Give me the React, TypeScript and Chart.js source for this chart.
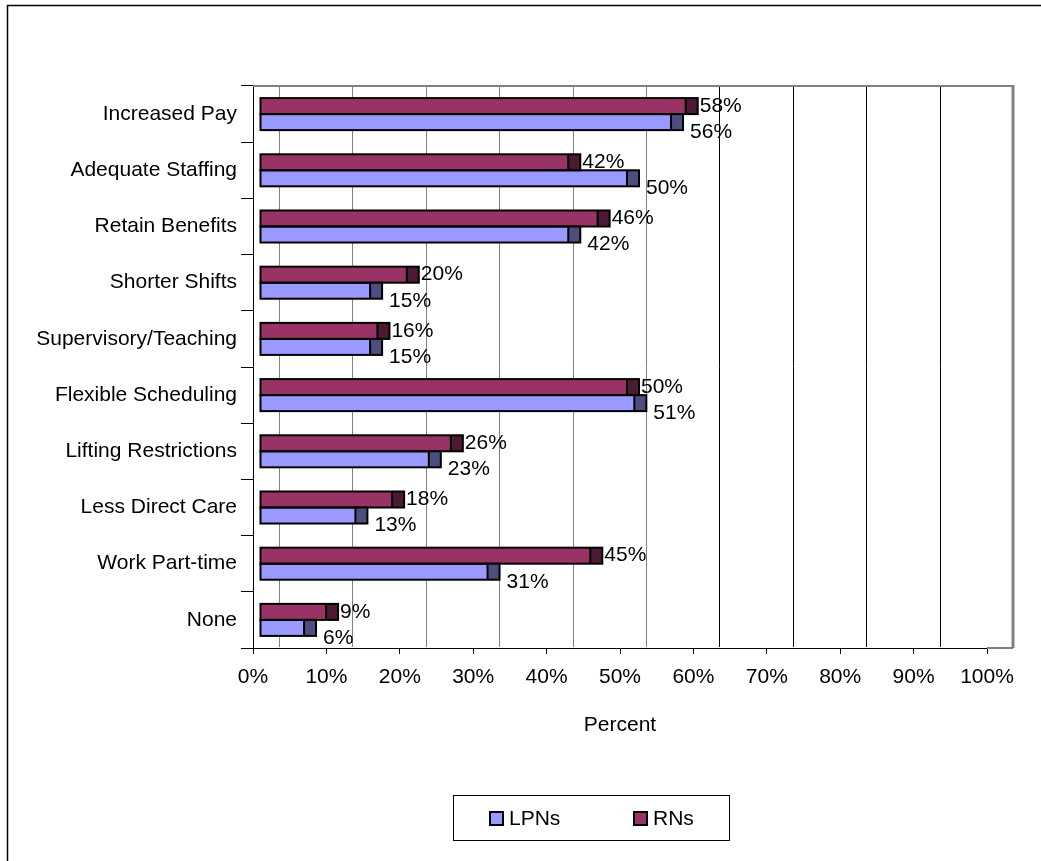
import React, { useEffect, useRef } from "react";
import { Chart, registerables } from "chart.js";

Chart.register(...registerables);

const categories = [
  "Increased Pay",
  "Adequate Staffing",
  "Retain Benefits",
  "Shorter Shifts",
  "Supervisory/Teaching",
  "Flexible Scheduling",
  "Lifting Restrictions",
  "Less Direct Care",
  "Work Part-time",
  "None",
];
const rnValues = [58, 42, 46, 20, 16, 50, 26, 18, 45, 9];
const lpnValues = [56, 50, 42, 15, 15, 51, 23, 13, 31, 6];
const xTicks = [0, 10, 20, 30, 40, 50, 60, 70, 80, 90, 100];
const seriesNames = ["RNs", "LPNs"];

const FONT = "'Liberation Sans', Arial, sans-serif";
const FONT_SIZE = 21;
const RN_FACE = "#993366";
const RN_CAP = "#4D1A33";
const LPN_FACE = "#9999FF";
const LPN_CAP = "#4D4D80";
const capColors = [RN_CAP, LPN_CAP];

const WALL_DX = 26;
const BAR_SHIFT = 7;
const CAP = 12;

const wallPlugin = {
  id: "wall3d",
  beforeDatasetsDraw(chart: any) {
    const { ctx, chartArea } = chart;
    const x = chart.scales.x;
    ctx.save();
    ctx.lineWidth = 1;
    xTicks.forEach((v) => {
      if (v >= 100) return;
      const px = Math.round(x.getPixelForValue(v) + WALL_DX) + 0.5;
      ctx.strokeStyle = v <= 50 ? "#808080" : "#000000";
      ctx.beginPath();
      ctx.moveTo(px, chartArea.top);
      ctx.lineTo(px, chartArea.bottom - 1);
      ctx.stroke();
    });
    const right = Math.round(x.getPixelForValue(100) + WALL_DX);
    ctx.strokeStyle = "#808080";
    ctx.lineWidth = 2;
    ctx.beginPath();
    ctx.moveTo(chartArea.left, chartArea.top);
    ctx.lineTo(right, chartArea.top);
    ctx.stroke();
    ctx.lineWidth = 3;
    ctx.beginPath();
    ctx.moveTo(right, chartArea.top - 1);
    ctx.lineTo(right, chartArea.bottom);
    ctx.stroke();
    ctx.lineWidth = 2;
    ctx.beginPath();
    ctx.moveTo(chartArea.right, chartArea.bottom);
    ctx.lineTo(right, chartArea.bottom);
    ctx.stroke();
    ctx.restore();
    ctx.save();
    ctx.translate(BAR_SHIFT, 0);
  },
  afterDatasetsDraw(chart: any) {
    const { ctx } = chart;
    ctx.restore();
    ctx.save();
    chart.data.datasets.forEach((ds: any, di: number) => {
      const meta = chart.getDatasetMeta(di);
      meta.data.forEach((bar: any, i: number) => {
        const p = bar.getProps(["x", "y", "base", "height"], true);
        const left = p.base + BAR_SHIFT;
        const faceEnd = p.x + BAR_SHIFT;
        const top = p.y - p.height / 2;
        ctx.fillStyle = capColors[di];
        ctx.fillRect(faceEnd, top, CAP, p.height);
        ctx.strokeStyle = "#000000";
        ctx.lineWidth = 2;
        ctx.strokeRect(left, top, faceEnd + CAP - left, p.height);
        ctx.beginPath();
        ctx.moveTo(faceEnd, top);
        ctx.lineTo(faceEnd, top + p.height);
        ctx.stroke();
        ctx.fillStyle = "#000000";
        ctx.font = `${FONT_SIZE}px ${FONT}`;
        ctx.textAlign = "left";
        ctx.textBaseline = "middle";
        const v = ds.data[i];
        if (di === 0) {
          ctx.fillText(`${v}%`, faceEnd + CAP + 2, p.y);
        } else {
          ctx.fillText(`${v}%`, faceEnd + CAP + 7, p.y + 10);
        }
      });
    });
    ctx.restore();
  },
  afterDraw(chart: any) {
    const { ctx } = chart;
    ctx.save();
    // outer frame
    ctx.strokeStyle = "#000000";
    ctx.lineWidth = 1.5;
    ctx.beginPath();
    ctx.moveTo(7.5, 870);
    ctx.lineTo(7.5, 5.5);
    ctx.lineTo(1050, 5.5);
    ctx.stroke();
    // legend
    ctx.lineWidth = 1;
    ctx.strokeRect(453.5, 795.5, 276, 45);
    const items = [
      { label: seriesNames[1], color: LPN_FACE, bx: 490, tx: 509 },
      { label: seriesNames[0], color: RN_FACE, bx: 634, tx: 653 },
    ];
    ctx.font = `${FONT_SIZE}px ${FONT}`;
    ctx.textBaseline = "middle";
    ctx.textAlign = "left";
    items.forEach((it) => {
      ctx.fillStyle = it.color;
      ctx.fillRect(it.bx, 812, 13, 13);
      ctx.lineWidth = 2;
      ctx.strokeStyle = "#000000";
      ctx.strokeRect(it.bx, 812, 13, 13);
      ctx.fillStyle = "#000000";
      ctx.fillText(it.label, it.tx, 819);
    });
    ctx.restore();
  },
};

export default function App() {
  const ref = useRef<HTMLCanvasElement>(null);
  useEffect(() => {
    if (!ref.current) return;
    Chart.defaults.font.family = FONT;
    const chart = new Chart(ref.current, {
      type: "bar",
      data: {
        labels: categories,
        datasets: [
          {
            label: seriesNames[0],
            data: rnValues,
            backgroundColor: RN_FACE,
            borderWidth: 0,
            categoryPercentage: 0.57,
            barPercentage: 1,
          },
          {
            label: seriesNames[1],
            data: lpnValues,
            backgroundColor: LPN_FACE,
            borderWidth: 0,
            categoryPercentage: 0.57,
            barPercentage: 1,
          },
        ],
      },
      plugins: [wallPlugin],
      options: {
        indexAxis: "y",
        responsive: false,
        animation: false,
        layout: { padding: { top: 86, right: 54, left: 0, bottom: 123.4 } },
        plugins: {
          legend: { display: false },
          tooltip: { enabled: false },
        },
        scales: {
          x: {
            type: "linear",
            min: 0,
            max: 100,
            afterBuildTicks: (scale: any) => {
              scale.ticks = xTicks.map((v) => ({ value: v }));
            },
            ticks: {
              callback: (v: any) => `${v}%`,
              color: "#000000",
              font: { size: FONT_SIZE, family: FONT },
              padding: 11,
              maxRotation: 0,
              autoSkip: false,
            },
            grid: {
              drawOnChartArea: false,
              drawTicks: true,
              tickLength: 6,
              color: "#000000",
            },
            border: { color: "#000000", width: 1 },
            title: {
              display: true,
              text: "Percent",
              color: "#000000",
              font: { size: FONT_SIZE, family: FONT },
              padding: 0,
            },
            afterFit: (scale: any) => {
              scale.height = 89.6;
            },
          },
          y: {
            type: "category",
            ticks: {
              color: "#000000",
              font: { size: FONT_SIZE, family: FONT },
              padding: 4,
              autoSkip: false,
            },
            grid: {
              offset: true,
              drawOnChartArea: false,
              drawTicks: true,
              tickLength: 12,
              color: "#000000",
            },
            border: { color: "#000000", width: 1 },
            afterFit: (scale: any) => {
              scale.width = 253;
            },
          },
        },
      },
    } as any);
    return () => chart.destroy();
  }, []);
  return (
    <div style={{ position: "absolute", left: 0, top: 0, width: 1041, height: 861, background: "#ffffff" }}>
      <canvas ref={ref} width={1041} height={861} style={{ width: 1041, height: 861, display: "block" }} />
    </div>
  );
}
